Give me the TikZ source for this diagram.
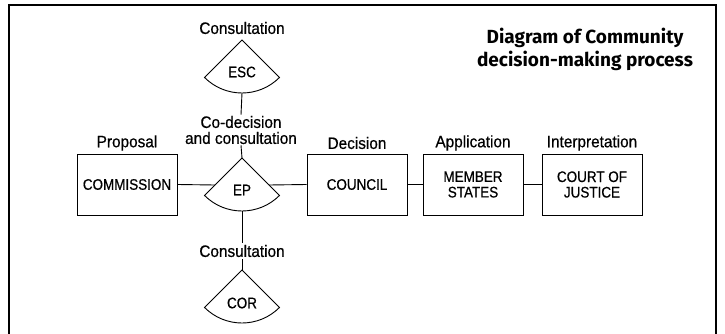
\documentclass[tikz,border=0pt]{standalone}
\usepackage{fontspec}
\setmainfont{Liberation Sans}[FakeStretch=0.93, FakeBold=0.6]
\newfontfamily\boxfam{Liberation Sans}[FakeStretch=0.88, FakeBold=0.6]
\newfontfamily\titlefam{Fira Sans}
\begin{document}
\begin{tikzpicture}[x=1pt,y=1pt,
  lab/.style={font=\fontsize{16.5}{16}\selectfont, inner sep=2pt},
  boxtxt/.style={font=\boxfam\fontsize{15.3}{15.5}\selectfont},
  org/.style={draw, line width=0.9pt, minimum width=100pt, minimum height=61pt, align=center, boxtxt},
  sect/.style={draw, line width=0.9pt},
  conn/.style={line width=0.9pt},
  frame/.style={line width=1.1pt}
]
\useasboundingbox (0,0) rectangle (725,-334);
% frame
\draw[frame] (9,-334) -- (9,-5) -- (716,-5) -- (716,-334);
% title
\node[font=\titlefam\bfseries\fontsize{19}{23}\selectfont, align=center] (title) at (585,-49)
  {Diagram of Community\\decision-making process};
% sectors
\coordinate (escA) at (242,-40);
\coordinate (escB) at (242,-93);
\coordinate (epA) at (242,-158);
\coordinate (epB) at (242,-211);
\coordinate (epL) at (215,-185);
\coordinate (epR) at (269,-185);
\coordinate (corA) at (242,-270);
\draw[sect] (escA) -- ++(225:53) arc[start angle=225, end angle=315, radius=53] -- cycle;
\draw[sect] (epA) -- ++(225:53) arc[start angle=225, end angle=315, radius=53] -- cycle;
\draw[sect] (corA) -- ++(225:53) arc[start angle=225, end angle=315, radius=53] -- cycle;
\node[boxtxt] (esc) at (242,-72) {ESC};
\node[boxtxt] (ep) at (242,-190) {EP};
\node[boxtxt] (cor) at (242,-303) {COR};
% labels
\node[lab] (cons1) at (242,-28) {Consultation};
\node[lab, align=center, inner sep=1pt] (cod) at (241,-130) {Co-decision\\and consultation};
\node[lab] (cons2) at (242,-251) {Consultation};
% boxes
\node[org] (comm) at (127,-184.5) {COMMISSION};
\node[org] (council) at (357,-184.5) {COUNCIL};
\node[org] (member) at (473,-184.5) {MEMBER\\STATES};
\node[org] (court) at (592,-184.5) {COURT OF\\JUSTICE};
\node[lab] (prop) at (127,-143) {Proposal};
\node[lab] (dec) at (357,-143) {Decision};
\node[lab] (app) at (473,-143) {Application};
\node[lab] (interp) at (592,-143) {Interpretation};
% connectors
\draw[conn] (escB) -- (cod.north);
\draw[conn] (cod.south) -- (epA);
\draw[conn] (epB) -- (cons2.north);
\draw[conn] (cons2.south) -- (corA);
\draw[conn] (comm.east) -- (epL);
\draw[conn] (epR) -- (council.west);
\draw[conn] (council.east) -- (member.west);
\draw[conn] (member.east) -- (court.west);
\end{tikzpicture}
\end{document}
